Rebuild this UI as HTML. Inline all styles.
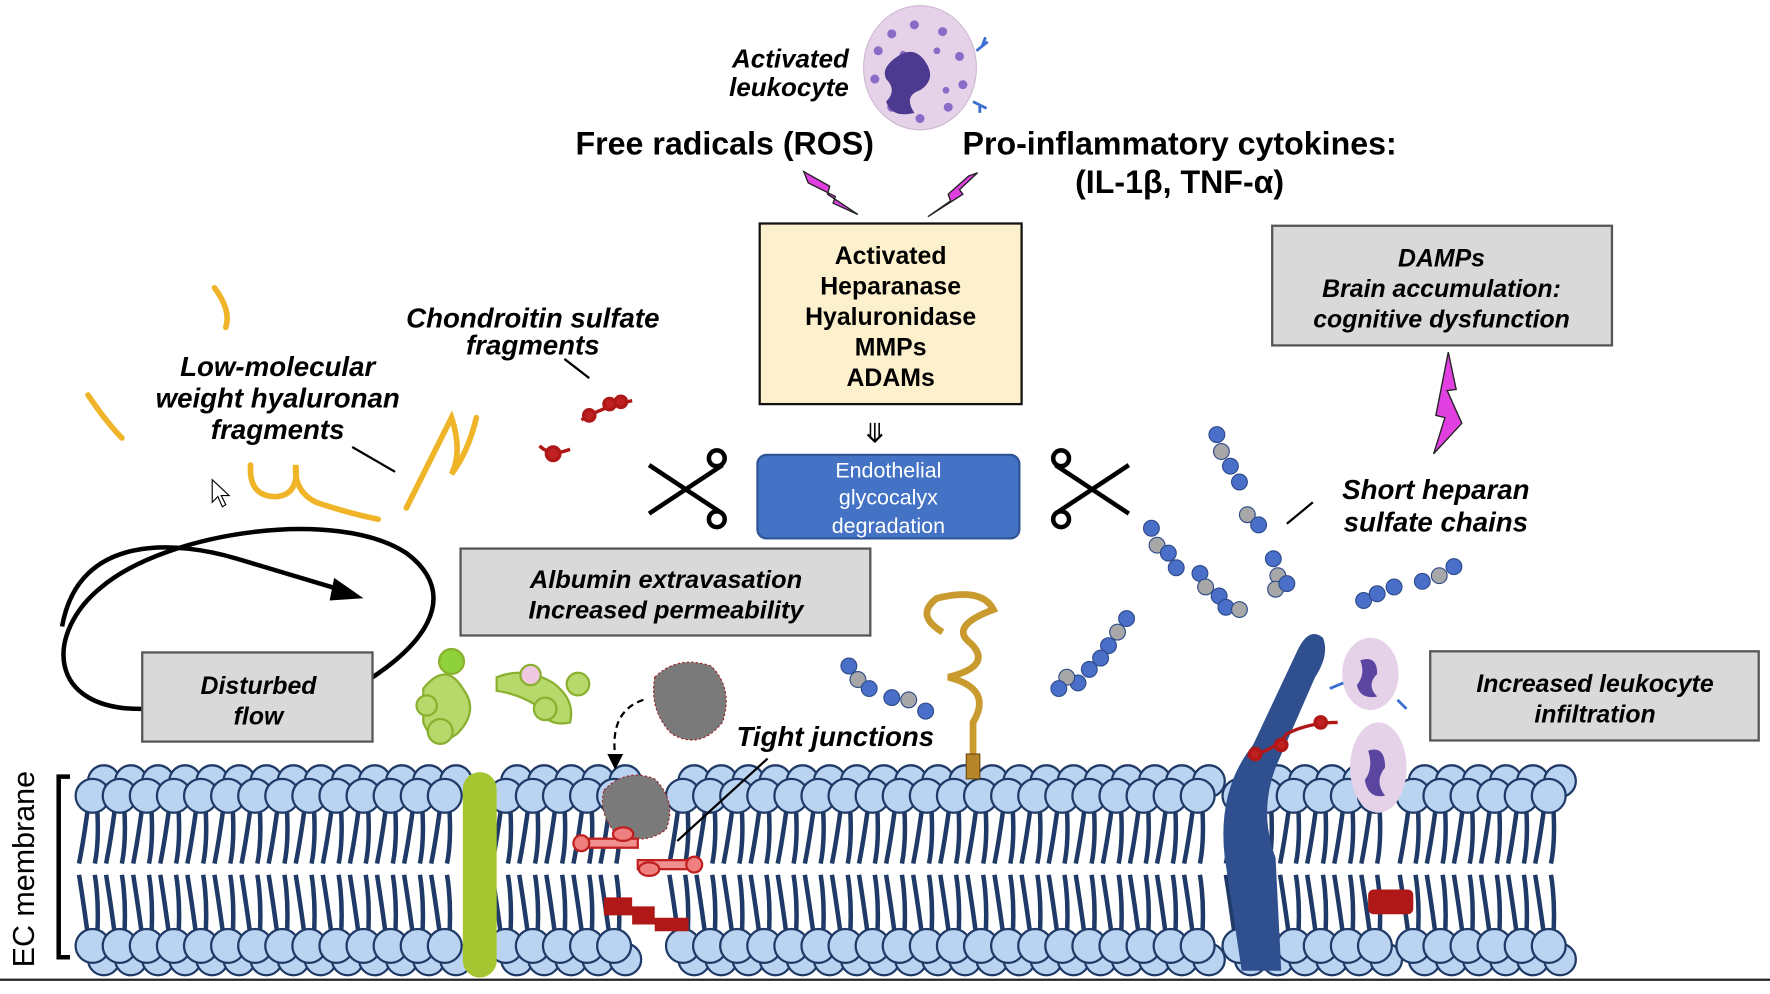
<!DOCTYPE html>
<html><head><meta charset="utf-8"><style>
html,body{margin:0;padding:0;background:#fff;}
svg{display:block;}
text{font-family:"Liberation Sans",Arial,sans-serif;}
.b{font-weight:bold;}
.bi{font-weight:bold;font-style:italic;}
</style></head><body>
<svg id="s" width="1770" height="994" viewBox="0 0 1568 880.6" preserveAspectRatio="none" xmlns="http://www.w3.org/2000/svg">
<rect width="1568" height="881" fill="#fff"/>
<g id="mem"></g>
<rect x="410" y="684" width="30" height="182" rx="15" fill="#a6c631"/>
<line x1="0" y1="868" x2="1568" y2="868" stroke="#222" stroke-width="2"/>
<text transform="translate(30,770) rotate(-90)" text-anchor="middle" font-size="27" fill="#000">EC membrane</text>
<path d="M62,688 H52 V848 H62" fill="none" stroke="#000" stroke-width="4"/>

<ellipse cx="815" cy="60" rx="50" ry="55" fill="#e6d2e8" stroke="#d0b8d4"/>
<g fill="#8a6cc8">
<circle cx="790" cy="30" r="4"/><circle cx="810" cy="22" r="4"/><circle cx="835" cy="28" r="4"/><circle cx="850" cy="50" r="4"/><circle cx="853" cy="75" r="4"/><circle cx="840" cy="95" r="4"/><circle cx="815" cy="105" r="4"/><circle cx="790" cy="95" r="4"/><circle cx="775" cy="70" r="4"/><circle cx="778" cy="45" r="4"/><circle cx="830" cy="45" r="3"/><circle cx="800" cy="48" r="3"/><circle cx="838" cy="80" r="3"/>
</g>
<path d="M795,50 q15,-10 25,5 q10,15 -5,25 q-15,5 -5,20 q-20,5 -25,-10 q10,-10 0,-20 q-5,-10 10,-20z" fill="#4b3a8f"/>
<path d="M865,45 l10,-8 M870,41 l3,-8 M862,90 l12,6 M868,92 l0,8" stroke="#3d6fd0" stroke-width="2.5"/>

<text x="752" y="60" text-anchor="end" font-size="23" class="bi">Activated</text>
<text x="752" y="85" text-anchor="end" font-size="23" class="bi">leukocyte</text>
<text x="642" y="137" text-anchor="middle" font-size="28.5" class="b">Free radicals (ROS)</text>
<text x="1045" y="137" text-anchor="middle" font-size="28.5" class="b">Pro-inflammatory cytokines:</text>
<text x="1045" y="171" text-anchor="middle" font-size="28.5" class="b">(IL-1β, TNF-α)</text>

<g fill="#e040e0" stroke="#222" stroke-width="1.2">
<polygon points="712,152 735,165 733,172 760,190 738,180 740,174 716,162"/>
<polygon points="866,153 850,168 853,172 822,192 842,178 840,172 858,156"/>
<polygon points="1283,312 1290,345 1282,346 1295,375 1270,402 1280,370 1272,368"/>
</g>

<rect x="673" y="198" width="232" height="160" fill="#fdf0cc" stroke="#111" stroke-width="2"/>
<g font-size="22" class="b" text-anchor="middle">
<text x="789" y="234">Activated</text><text x="789" y="261">Heparanase</text><text x="789" y="288">Hyaluronidase</text><text x="789" y="315">MMPs</text><text x="789" y="342">ADAMs</text>
</g>
<text x="775" y="392" text-anchor="middle" font-size="24">⤋</text>

<rect x="1127" y="200" width="301" height="106" fill="#d9d9d9" stroke="#555" stroke-width="2"/>
<g font-size="22" class="bi" text-anchor="middle">
<text x="1277" y="236">DAMPs</text><text x="1277" y="263">Brain accumulation:</text><text x="1277" y="290">cognitive dysfunction</text>
</g>

<rect x="671" y="403" width="232" height="74" rx="8" fill="#4472c4" stroke="#2f5597" stroke-width="2"/>
<g font-size="19" fill="#fff" text-anchor="middle">
<text x="787" y="423">Endothelial</text><text x="787" y="447">glycocalyx</text><text x="787" y="472">degradation</text>
</g>

<rect x="408" y="486" width="363" height="77" fill="#d9d9d9" stroke="#555" stroke-width="2"/>
<g font-size="22.5" class="bi" text-anchor="middle">
<text x="590" y="521">Albumin extravasation</text><text x="590" y="548">Increased permeability</text>
</g>

<path d="M128,628 C40,630 40,560 90,520 C150,470 300,450 360,490 C400,520 390,560 330,600" fill="none" stroke="#000" stroke-width="4"/>
<path d="M55,555 C70,470 160,480 210,495 L300,522" fill="none" stroke="#000" stroke-width="4"/>
<polygon points="322,530 296,512 292,532" fill="#000"/>
<rect x="126" y="578" width="204" height="79" fill="#d9d9d9" stroke="#555" stroke-width="2"/>
<g font-size="22" class="bi" text-anchor="middle">
<text x="229" y="615">Disturbed</text><text x="229" y="642">flow</text>
</g>

<rect x="1267" y="577" width="291" height="79" fill="#d9d9d9" stroke="#555" stroke-width="2"/>
<g font-size="22" class="bi" text-anchor="middle">
<text x="1413" y="613">Increased leukocyte</text><text x="1413" y="640">infiltration</text>
</g>

<g font-size="24.5" class="bi" text-anchor="middle">
<text x="472" y="290">Chondroitin sulfate</text><text x="472" y="314">fragments</text>
<text x="246" y="333">Low-molecular</text><text x="246" y="361">weight hyaluronan</text><text x="246" y="389">fragments</text>
<text x="1272" y="442">Short heparan</text><text x="1272" y="471">sulfate chains</text>
<text x="740" y="661">Tight junctions</text>
</g>
<g stroke="#000" stroke-width="2">
<line x1="500" y1="318" x2="522" y2="335"/>
<line x1="312" y1="396" x2="350" y2="418"/>
<line x1="1140" y1="464" x2="1163" y2="445"/>
<line x1="600" y1="745" x2="680" y2="672"/>
</g>

<g fill="none" stroke="#f0b429" stroke-width="5" stroke-linecap="round">
<path d="M190,255 Q205,275 200,290"/>
<path d="M78,350 Q95,375 108,388"/>
<path d="M222,412 Q220,440 245,440 Q265,438 262,412 Q260,435 280,445 Q310,455 335,460"/>
<path d="M360,450 Q385,400 400,370 Q410,400 400,420 Q415,400 422,370"/>
</g>
<g stroke="#b01818" stroke-width="3" fill="#c02020">
<path d="M515,372 Q535,360 560,355" fill="none"/><circle cx="522" cy="368" r="5"/><circle cx="540" cy="358" r="5"/><circle cx="550" cy="356" r="5"/>
<path d="M478,395 Q488,405 505,398" fill="none"/><circle cx="490" cy="402" r="6"/>
</g>

<g stroke="#000" stroke-width="4" fill="none">
<line x1="575" y1="412" x2="640" y2="455"/><line x1="575" y1="455" x2="640" y2="412"/>
<circle cx="635" cy="406" r="7"/><circle cx="635" cy="460" r="7"/>
<line x1="1000" y1="412" x2="935" y2="455"/><line x1="1000" y1="455" x2="935" y2="412"/>
<circle cx="940" cy="406" r="7"/><circle cx="940" cy="460" r="7"/>
</g>

<g id="hs" stroke="#2d4a8a" stroke-width="1"></g>

<path d="M862,690 L862,640 Q880,610 840,600 Q880,590 860,570 Q840,555 880,540 Q870,520 830,530 Q810,545 835,560" fill="none" stroke="#c99a2e" stroke-width="6"/>
<rect x="856" y="668" width="12" height="22" fill="#b8862a" stroke="#6a4a10"/>

<path d="M1100,860 L1085,760 Q1078,700 1110,660 L1150,575 Q1160,555 1172,565 Q1178,580 1165,600 L1130,680 Q1115,720 1130,760 L1135,860 Z" fill="#2f4f8f"/>

<ellipse cx="1214" cy="597" rx="25" ry="32" fill="#e6d2e8"/>
<path d="M1205,585 q15,-5 15,12 q-10,10 0,20 q-15,3 -18,-10 q8,-10 3,-22z" fill="#5a45a0"/>
<ellipse cx="1221" cy="680" rx="25" ry="40" fill="#e6d2e8"/>
<path d="M1212,665 q15,-5 15,15 q-10,12 0,25 q-15,3 -18,-14 q8,-10 3,-26z" fill="#5a45a0"/>
<path d="M1190,605 l-12,5 M1238,620 l8,8" stroke="#3d6fd0" stroke-width="2.5"/>
<g stroke="#b01818" stroke-width="3" fill="#c02020">
<path d="M1105,670 Q1130,665 1140,650 Q1160,640 1185,640" fill="none"/><circle cx="1112" cy="668" r="5"/><circle cx="1135" cy="660" r="5"/><circle cx="1170" cy="640" r="5"/>
</g>
<rect x="1212" y="788" width="40" height="22" rx="5" fill="#b01818"/>

<g fill="#b7d96b" stroke="#8ab030" stroke-width="2">
<path d="M375,610 Q395,585 410,610 Q425,630 405,650 Q385,665 375,640z"/>
<circle cx="400" cy="586" r="11" fill="#8fd13a"/><circle cx="390" cy="648" r="11"/><circle cx="378" cy="625" r="9"/>
<path d="M440,600 Q465,590 490,605 Q510,620 505,640 Q485,645 475,625 Q460,615 440,612z"/>
<circle cx="470" cy="598" r="9" fill="#f0c8e0"/><circle cx="512" cy="606" r="10"/><circle cx="483" cy="628" r="10"/>
</g>
<g fill="#7a7a7a" stroke="#a02020" stroke-width="1" stroke-dasharray="2 2">
<path d="M580,600 Q600,580 630,590 Q650,610 640,640 Q620,665 595,650 Q575,630 580,600z"/>
<path d="M535,700 Q555,680 580,690 Q600,710 590,735 Q570,750 545,738 Q530,720 535,700z"/>
</g>
<path d="M570,620 Q540,630 545,670" fill="none" stroke="#000" stroke-width="2" stroke-dasharray="6 4"/>
<polygon points="538,668 552,668 545,682" fill="#000"/>
<g stroke="#c02020" stroke-width="2">
<rect x="515" y="743" width="50" height="8" fill="#f09090"/><circle cx="515" cy="747" r="7" fill="#f08080"/><ellipse cx="552" cy="739" rx="9" ry="6" fill="#f08080"/>
<rect x="565" y="762" width="50" height="8" fill="#f09090"/><circle cx="615" cy="766" r="7" fill="#f08080"/><ellipse cx="575" cy="770" rx="9" ry="6" fill="#f08080"/>
</g>
<path d="M535,795 h25 v8 h20 v10 h30 v12 h-30 v-6 h-20 v-8 h-25z" fill="#b01818"/>

<path d="M188,425 L188,445 L193,440 L197,449 L200,447 L196,439 L203,439 Z" fill="#fff" stroke="#000"/>
</svg>
<script>
var NS="http://www.w3.org/2000/svg";
function el(p,t,a){var e=document.createElementNS(NS,t);for(var k in a)e.setAttribute(k,a[k]);p.appendChild(e);return e;}
var m=document.getElementById("mem");
var segs=[[82,395],[448,545],[605,1080],[1098,1222],[1252,1395]];
var tails=el(m,"g",{stroke:"#1f3a66","stroke-width":"4",fill:"none"});
var heads=el(m,"g",{fill:"#b9d3f1",stroke:"#1f3a66","stroke-width":"2"});
segs.forEach(function(s){
  for(var x=s[0];x<=s[1];x+=24){
    el(tails,"path",{d:"M"+(x-4)+",715 Q"+(x-8)+",745 "+(x-12)+",765 M"+(x+4)+",715 Q"+(x+6)+",745 "+(x+2)+",765"});
    el(tails,"path",{d:"M"+(x-4)+",830 Q"+(x-8)+",800 "+(x-12)+",775 M"+(x+4)+",830 Q"+(x+6)+",800 "+(x+2)+",775"});
  }
  for(var x=s[0];x<=s[1];x+=24){el(heads,"circle",{cx:x+10,cy:692,r:14});el(heads,"circle",{cx:x+10,cy:850,r:14});}
  for(var x=s[0];x<=s[1];x+=24){el(heads,"circle",{cx:x,cy:705,r:15});el(heads,"circle",{cx:x,cy:838,r:15});}
});
var hs=document.getElementById("hs");
var chains=[
[[1078,385,"b"],[1082,400,"g"],[1090,413,"b"],[1098,427,"b"]],
[[1105,456,"g"],[1115,465,"b"]],
[[1020,468,"b"],[1025,483,"g"],[1035,490,"b"],[1042,503,"b"]],
[[1128,495,"b"],[1132,510,"g"],[1130,522,"g"],[1140,517,"b"]],
[[1063,508,"b"],[1068,520,"g"],[1080,528,"b"],[1086,538,"b"],[1098,540,"g"]],
[[1208,532,"b"],[1220,526,"b"],[1235,520,"b"]],
[[1260,515,"b"],[1275,510,"g"],[1288,502,"b"]],
[[998,548,"b"],[990,560,"g"],[982,572,"b"],[975,583,"b"],[965,593,"b"],[955,605,"b"],[945,600,"g"],[938,610,"b"]],
[[752,590,"b"],[760,602,"g"],[770,610,"b"],[790,618,"b"],[805,620,"g"],[820,630,"b"]]
];
chains.forEach(function(c){c.forEach(function(p){el(hs,"circle",{cx:p[0],cy:p[1],r:7,fill:p[2]=="b"?"#4a6fc8":"#a7a7a7"});});});
</script>
</body></html>
